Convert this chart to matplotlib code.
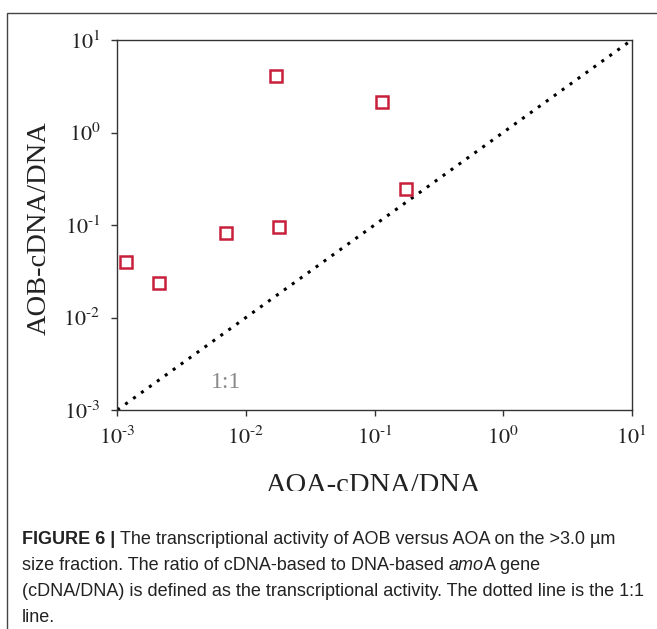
import matplotlib
matplotlib.use("Agg")
import matplotlib.pyplot as plt
from matplotlib.patches import Rectangle

# ---- data ----
aoa_ratio = [1.17e-3, 2.12e-3, 7.0e-3, 0.0172, 0.0182, 0.115, 0.175]
aob_ratio = [0.0394, 0.0237, 0.081, 4.10, 0.0948, 2.15, 0.243]
one_to_one = [1e-3, 10.0]
tick_vals = [1e-3, 1e-2, 1e-1, 1e0, 1e1]
tick_labels = [r"$10^{\text{-}3}$", r"$10^{\text{-}2}$", r"$10^{\text{-}1}$", r"$10^{0}$", r"$10^{1}$"]
x_label = "AOA-cDNA/DNA"
y_label = "AOB-cDNA/DNA"
caption_lines = [
    [("FIGURE 6 | ", "bold", "normal"),
     ("The transcriptional activity of AOB versus AOA on the >3.0 \u00b5m", "normal", "normal")],
    [("size fraction. The ratio of cDNA-based to DNA-based ", "normal", "normal"),
     ("amo", "normal", "italic"), ("A gene", "normal", "normal")],
    [("(cDNA/DNA) is defined as the transcriptional activity. The dotted line is the 1:1", "normal", "normal")],
    [("line.", "normal", "normal")],
]

W, H = 657, 629
plt.rcParams['mathtext.fontset'] = 'stix'
plt.rcParams['font.family'] = ['Liberation Serif', 'DejaVu Serif']

fig = plt.figure(figsize=(W / 100, H / 100), dpi=100)
fig.patch.set_facecolor('white')

# figure frame
fig.patches.append(Rectangle((7 / W, -0.1), 1.2, 1 - 13 / H + 0.1, transform=fig.transFigure,
                             fill=False, edgecolor='#444444', linewidth=1.0, zorder=10))

L, R, T, B = 117.3, 631.7, 40, 410
ax = fig.add_axes([L / W, 1 - B / H, (R - L) / W, (B - T) / H])
ax.set_xscale('log')
ax.set_yscale('log')
ax.set_xlim(1e-3, 10)
ax.set_ylim(1e-3, 10)

ax.plot(one_to_one, one_to_one, color='black', linestyle=(0, (1, 2.2)), linewidth=2.2, zorder=2)
ax.plot(aoa_ratio, aob_ratio, linestyle='none', marker='s', markersize=8.2,
        markerfacecolor='white', markeredgecolor='#c8203c', markeredgewidth=1.8, zorder=3)

ax.set_xticks(tick_vals)
ax.set_xticklabels(tick_labels)
ax.set_yticks(tick_vals)
ax.set_yticklabels(tick_labels)
ax.minorticks_off()
ax.tick_params(axis='both', which='major', direction='out', length=4, width=1.0,
               colors='#333333', labelsize=16, pad=8, labelcolor='#222222')
for s in ax.spines.values():
    s.set_linewidth(1.0)
    s.set_edgecolor('#333333')

ax.text((225.7 - L) / (R - L), (B - 383) / (B - T), "1:1", transform=ax.transAxes,
        fontsize=17, color='#8a8a8a', ha='center', va='center')

fig.text((265 + 482) / 2 / W, 1 - 485 / H, x_label, fontsize=20.5, ha='center', va='center',
         color='#222222')
fig.text(39 / W, 1 - 228 / H, y_label, fontsize=20.5, rotation=90, ha='center', va='center',
         color='#222222')

# clip the bottom of the x label like the reference
fig.patches.append(Rectangle((8 / W, 0), 1.0, 1 - 491 / H, transform=fig.transFigure,
                             facecolor='white', edgecolor='none', zorder=5))

# caption
cap_family = ['Liberation Sans Narrow', 'Liberation Sans', 'DejaVu Sans']
cap_size = 13.0
baselines = [544, 570, 596, 622]
renderer = fig.canvas.get_renderer()
for line, yb in zip(caption_lines, baselines):
    x = 22
    for txt, weight, style in line:
        t = fig.text(x / W, 1 - yb / H, txt, fontsize=cap_size, family=cap_family,
                     fontweight=weight, fontstyle=style, ha='left', va='baseline',
                     color='#222222', zorder=6)
        bb = t.get_window_extent(renderer)
        x = bb.x1

fig.savefig('out.png', dpi=100, facecolor='white')
